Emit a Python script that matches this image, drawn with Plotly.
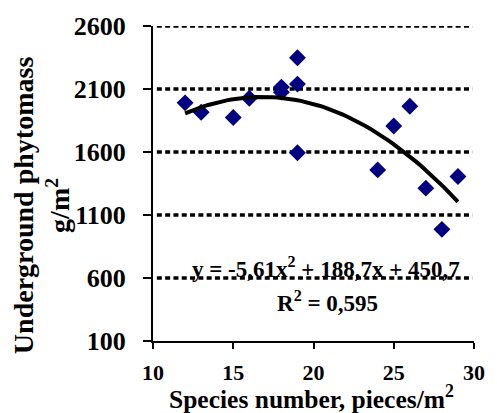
import plotly.graph_objects as go
import numpy as np

# Data
species = [12, 13, 15, 16, 18, 18, 19, 19, 19, 24, 25, 26, 27, 28, 29]
biomass = [1990, 1916, 1874, 2026, 2115, 2075, 2348, 2139, 1594, 1458, 1806, 1963, 1313, 986, 1405]

# Trendline coefficients (from the equation shown on the chart)
trend_coef = [-5.61, 188.7, 450.7]
trend_x_range = [12, 29]

x_ticks = [10, 15, 20, 25, 30]
y_ticks = [100, 600, 1100, 1600, 2100, 2600]
grid_values = [600, 1100, 1600, 2100, 2600]

eq_text = "y = -5,61x<sup>2</sup> + 188,7x + 450,7"
r2_text = "R<sup>2</sup> = 0,595"
x_title = "Species number, pieces/m<sup>2</sup>"
y_title = "Underground phytomass<br>g/m<sup>2</sup>"

FONT = "Liberation Serif"

tx = np.linspace(trend_x_range[0], trend_x_range[1], 60)
ty = np.polyval(trend_coef, tx)

fig = go.Figure()
fig.add_trace(go.Scatter(
    x=species, y=biomass, mode="markers",
    marker=dict(symbol="diamond", size=13, color="#000080", line=dict(width=0)),
    showlegend=False, hoverinfo="skip"))
fig.add_trace(go.Scatter(
    x=tx, y=ty, mode="lines",
    line=dict(color="black", width=4),
    showlegend=False, hoverinfo="skip"))

for g in grid_values:
    fig.add_shape(type="line", xref="paper", yref="y", x0=0.012, x1=0.995, y0=g, y1=g,
                  line=dict(color="black", width=3.5, dash="5px,3.3px"), layer="below")

fig.update_layout(
    width=497, height=413,
    margin=dict(l=153, r=13, t=23, b=72),
    paper_bgcolor="white", plot_bgcolor="white",
    xaxis=dict(range=[10, 30], tickvals=x_ticks, showgrid=False, zeroline=False,
               showline=True, linecolor="black", linewidth=2,
               ticks="outside", ticklen=6, tickwidth=2, tickcolor="black",
               tickfont=dict(family=FONT, size=22, color="black", weight="bold"),
               ticklabelstandoff=5),
    yaxis=dict(range=[100, 2600], tickvals=y_ticks, showgrid=False, zeroline=False,
               showline=True, linecolor="black", linewidth=2,
               ticks="outside", ticklen=8, tickwidth=2, tickcolor="black",
               tickfont=dict(family=FONT, size=26, color="black", weight="bold"),
               ticklabelstandoff=12),
)

fig.add_annotation(text=x_title, xref="paper", yref="paper", x=0.4925, y=-0.178,
                   xanchor="center", yanchor="middle", showarrow=False,
                   font=dict(family=FONT, size=25.5, color="black", weight="bold"))
fig.add_annotation(text=y_title, xref="paper", yref="paper", x=-0.347, y=0.43,
                   xanchor="center", yanchor="middle", showarrow=False, textangle=-90,
                   font=dict(family=FONT, size=28, color="black", weight="bold"))
fig.add_annotation(text=eq_text, xref="x", yref="y", x=20.8, y=680,
                   xanchor="center", yanchor="middle", showarrow=False,
                   font=dict(family=FONT, size=23, color="black", weight="bold"))
fig.add_annotation(text=r2_text, xref="x", yref="y", x=20.9, y=415,
                   xanchor="center", yanchor="middle", showarrow=False,
                   font=dict(family=FONT, size=23, color="black", weight="bold"))

fig.write_html("out.html")
